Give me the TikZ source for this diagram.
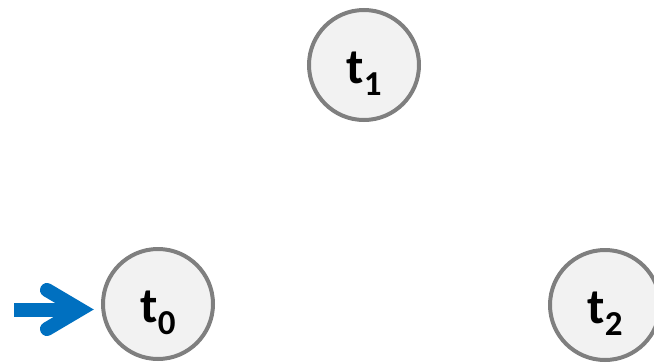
\documentclass[tikz,border=0pt]{standalone}
\usepackage{fontspec}
\setmainfont{Carlito}
\definecolor{ringgray}{HTML}{7F7F7F}
\definecolor{fillgray}{HTML}{F2F2F2}
\definecolor{arrowblue}{HTML}{0070C0}
\newcommand{\stname}[1]{t\raisebox{-12pt}{\fontsize{35}{36}\selectfont #1}}
\begin{document}
\begin{tikzpicture}[x=1pt,y=-1pt,
  state/.style={circle,draw=ringgray,fill=fillgray,line width=4pt,minimum size=110pt,inner sep=0pt,
    text height=36pt,text depth=0pt,
    font=\fontsize{50}{52}\selectfont\bfseries},
  startarrow/.style={draw=arrowblue,line width=14pt}]
\useasboundingbox (0,0) rectangle (654,362);
\node[state] (t1) at (364,65) {\stname{1}};
\node[state] (t0) at (158,304) {\stname{0}};
\node[state] (t2) at (605,305) {\stname{2}};
\coordinate (s) at (14,309.5);
\coordinate (tip) at (80,309.5);
\draw[startarrow,line cap=butt] (s) -- (tip);
\draw[startarrow,line cap=round,line join=miter] (47,290) -- (tip) -- (47,329);
\end{tikzpicture}
\end{document}
